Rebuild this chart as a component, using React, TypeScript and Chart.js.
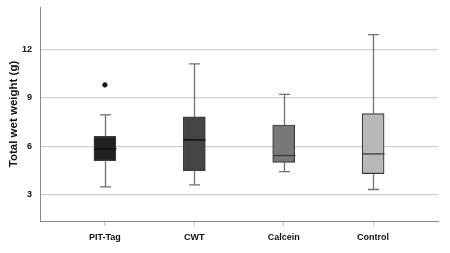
import React, { useEffect, useRef } from "react";
import { Chart, registerables } from "chart.js";

Chart.register(...registerables);

const categories = ["PIT-Tag", "CWT", "Calcein", "Control"];
const whiskerLow = [3.49, 3.62, 4.44, 3.33];
const q1 = [5.12, 4.5, 5.01, 4.31];
const median = [5.84, 6.4, 5.43, 5.53];
const q3 = [6.62, 7.83, 7.32, 8.02];
const whiskerHigh = [7.94, 11.1, 9.21, 12.91];
const outliers = [{ cat: 0, value: 9.8 }];
const yTicks = [3, 6, 9, 12];
const boxColors = ["#202020", "#454545", "#787878", "#b8b8b8"];

const whiskerPlugin = {
  id: "whiskers",
  afterDatasetsDraw(chart: any) {
    const ctx = chart.ctx;
    const xs = chart.scales.x;
    const ys = chart.scales.y;
    ctx.save();
    categories.forEach((_, i) => {
      const cx = Math.round(xs.getPixelForValue(i)) + 0.5;
      const capHalf = 5.5;
      const lo = ys.getPixelForValue(whiskerLow[i]);
      const hi = ys.getPixelForValue(whiskerHigh[i]);
      const b1 = ys.getPixelForValue(q1[i]);
      const b3 = ys.getPixelForValue(q3[i]);
      ctx.strokeStyle = "#707070";
      ctx.lineWidth = 1.3;
      ctx.beginPath();
      ctx.moveTo(cx, b1);
      ctx.lineTo(cx, lo);
      ctx.moveTo(cx - capHalf, lo);
      ctx.lineTo(cx + capHalf, lo);
      ctx.moveTo(cx, b3);
      ctx.lineTo(cx, hi);
      ctx.moveTo(cx - capHalf, hi);
      ctx.lineTo(cx + capHalf, hi);
      ctx.stroke();
      const m = ys.getPixelForValue(median[i]);
      ctx.strokeStyle = i < 2 ? "#0a0a0a" : "#3a3a3a";
      ctx.lineWidth = 1.3;
      ctx.beginPath();
      ctx.moveTo(cx - 11, m);
      ctx.lineTo(cx + 11, m);
      ctx.stroke();
    });
    ctx.restore();
  },
};

export default function App() {
  const ref = useRef<HTMLCanvasElement>(null);
  useEffect(() => {
    if (!ref.current) return;
    const chart = new Chart(ref.current, {
      type: "bar",
      data: {
        datasets: [
          {
            type: "bar",
            data: categories.map((_, i) => ({ x: i, y: [q1[i], q3[i]] })) as any,
            backgroundColor: boxColors,
            borderColor: "#3a3a3a",
            borderWidth: 1.2,
            borderSkipped: false,
            barThickness: 22,
            order: 2,
          } as any,
          {
            type: "scatter",
            data: outliers.map((o) => ({ x: o.cat, y: o.value })),
            backgroundColor: "#111",
            borderColor: "#111",
            pointRadius: 2.2,
            order: 1,
          } as any,
        ],
      },
      options: {
        animation: false,
        responsive: false,
        maintainAspectRatio: false,
        layout: { padding: { left: 0, right: 12, top: 7, bottom: 0 } },
        plugins: { legend: { display: false }, tooltip: { enabled: false } },
        scales: {
          x: {
            type: "linear",
            min: -0.726,
            max: 3.726,
            offset: false,
            afterBuildTicks: (s: any) => {
              s.ticks = categories.map((_, i) => ({ value: i }));
            },
            afterFit: (s: any) => {
              s.height = 32;
              s.paddingLeft = 0;
              s.paddingRight = 0;
            },
            grid: {
              offset: false,
              drawOnChartArea: false,
              drawTicks: true,
              tickLength: 5,
              color: "#c8c8c8",
            },
            border: { display: true, color: "#8a8a8a", width: 1 },
            ticks: {
              callback: (v: any) => categories[v as number] ?? "",
              color: "#111",
              font: { family: "Liberation Sans, Arial", size: 9, weight: "bold" },
              padding: 6,
              maxRotation: 0,
            },
          },
          y: {
            type: "linear",
            min: 1.38,
            max: 14.62,
            afterBuildTicks: (s: any) => {
              s.ticks = yTicks.map((v) => ({ value: v }));
            },
            afterFit: (s: any) => {
              s.width = 40;
              s.paddingTop = 0;
              s.paddingBottom = 0;
            },
            grid: {
              drawTicks: false,
              color: "#d0d0d0",
              lineWidth: 1.3,
            },
            border: { display: true, color: "#8a8a8a", width: 1 },
            title: {
              display: true,
              text: "Total wet weight (g)",
              color: "#111",
              font: { family: "Liberation Sans, Arial", size: 11.5, weight: "bold" },
              padding: { top: 7, bottom: 0 },
            },
            ticks: {
              color: "#111",
              font: { family: "Liberation Sans, Arial", size: 9, weight: "bold" },
              padding: 8,
            },
          },
        },
      },
      plugins: [whiskerPlugin],
    });
    return () => chart.destroy();
  }, []);
  return (
    <div style={{ position: "absolute", left: 0, top: 0, width: 450, height: 253, background: "#fff" }}>
      <canvas ref={ref} width={450} height={253} style={{ width: 450, height: 253 }} />
    </div>
  );
}
